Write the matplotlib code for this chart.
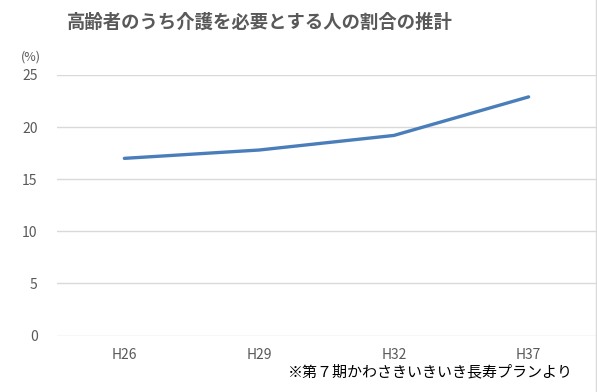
import matplotlib
matplotlib.use("Agg")
import matplotlib.pyplot as plt

plt.rcParams['font.family'] = ['Noto Sans CJK JP', 'DejaVu Sans']

years = ["H26", "H29", "H32", "H37"]
ratio = [17.0, 17.8, 19.2, 22.9]
yticks = [0, 5, 10, 15, 20, 25]

title = "高齢者のうち介護を必要とする人の割合の推計"
note = "※第７期かわさきいきいき長寿プランより"

fig = plt.figure(figsize=(5.97, 3.92), dpi=100)
ax = fig.add_axes([57 / 597, 1 - 335.5 / 392, 539 / 597, 260.5 / 392])

x = list(range(len(years)))
ax.plot(x, ratio, color="#4a7ebb", linewidth=2.4, solid_capstyle="round")

ax.set_xlim(-0.5, len(years) - 0.5)
ax.set_ylim(0, 25)
ax.set_yticks(yticks)
ax.set_xticks(x)
ax.set_xticklabels(years)
ax.grid(axis="y", color="#d9d9d9", linewidth=1)
ax.set_axisbelow(True)
for s in ax.spines.values():
    s.set_visible(False)
ax.tick_params(length=0, colors="#595959", labelsize=10)
ax.tick_params(axis="x", pad=9)
ax.tick_params(axis="y", pad=14)

fig.text(260 / 597, 1 - 22 / 392, title, ha="center", va="center",
         fontsize=13.2, fontweight="bold", color="#595959")
fig.text(31 / 597, 1 - 57 / 392, "(%)", ha="center", va="center",
         fontsize=9, color="#595959")
fig.text(573 / 597, 1 - 372 / 392, note, ha="right", va="center",
         fontsize=10.8, color="black")

# light frame on the right edge
fig.add_artist(plt.Line2D([596 / 597, 596 / 597], [0, 1], color="#d9d9d9", linewidth=1))

fig.savefig("out.png", dpi=100)
